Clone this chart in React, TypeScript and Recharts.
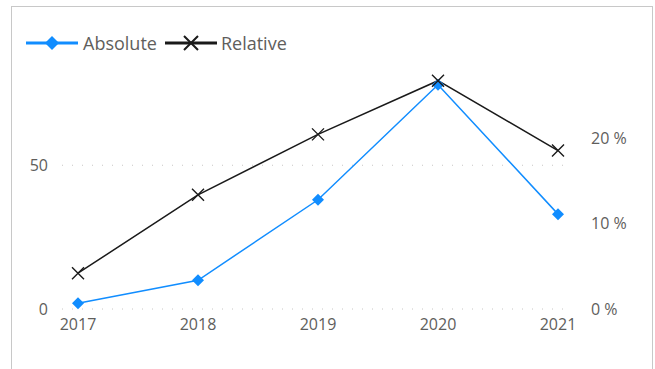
import React from 'react';
import { LineChart, Line, XAxis, YAxis, CartesianGrid, Legend } from 'recharts';

const years = ['2017', '2018', '2019', '2020', '2021'];
const absoluteValues = [2, 10, 38, 78, 33];
const relativeValues = [4.2, 13.4, 20.5, 26.8, 18.6];
const leftTicks = [0, 50];
const rightTicks = [0, 10, 20];

const BLUE = '#118DFF';
const BLACK = '#1a1a1a';
const TEXT = '#605E5C';
const FONT = '"Segoe UI", "Open Sans", sans-serif';

const data = years.map((year, i) => ({
    year,
    absolute: absoluteValues[i],
    relative: relativeValues[i],
}));

const Diamond = (props: any) => {
    const { cx, cy, index } = props;
    if (cx == null || cy == null) return null;
    const r = 6;
    return (
        <path
            key={`d-${index}`}
            d={`M${cx},${cy - r}L${cx + r},${cy}L${cx},${cy + r}L${cx - r},${cy}Z`}
            fill={BLUE}
        />
    );
};

const Cross = (props: any) => {
    const { cx, cy, index } = props;
    if (cx == null || cy == null) return null;
    const r = 6;
    return (
        <path
            key={`x-${index}`}
            d={`M${cx - r},${cy - r}L${cx + r},${cy + r}M${cx - r},${cy + r}L${cx + r},${cy - r}`}
            stroke={BLACK}
            strokeWidth={1.4}
            fill="none"
        />
    );
};

// legend drawn like the Power BI one: thick line with marker in the middle
const LegendContent = () => (
    <div style={{ display: 'flex', alignItems: 'center', fontFamily: FONT, fontSize: 18, color: TEXT }}>
        <svg width={52} height={20} style={{ marginRight: 5 }}>
            <line x1={0} y1={10} x2={52} y2={10} stroke={BLUE} strokeWidth={3} />
            <path d="M26,3L33,10L26,17L19,10Z" fill={BLUE} />
        </svg>
        <span style={{ marginRight: 8 }}>Absolute</span>
        <svg width={52} height={20} style={{ marginRight: 4 }}>
            <line x1={0} y1={10} x2={52} y2={10} stroke={BLACK} strokeWidth={3} />
            <path d="M19,3L33,17M19,17L33,3" stroke={BLACK} strokeWidth={2} fill="none" />
        </svg>
        <span>Relative</span>
    </div>
);

export default function App() {
    return (
        <div
            style={{
                position: 'absolute',
                left: 11,
                top: 6,
                width: 642,
                height: 363,
                boxSizing: 'border-box',
                borderTop: '1px solid #c8c8c8',
                borderLeft: '1px solid #c8c8c8',
                borderRight: '1px solid #c8c8c8',
                background: '#fff',
            }}
        >
            <LineChart
                width={640}
                height={362}
                data={data}
                margin={{ top: 72, right: 24, bottom: 30, left: 0 }}
            >
                <CartesianGrid
                    yAxisId="left"
                    vertical={false}
                    horizontalValues={leftTicks}
                    stroke="#c8c6c4"
                    strokeDasharray="1 9"
                />
                <XAxis
                    dataKey="year"
                    padding={{ left: 16, right: 10 }}
                    axisLine={false}
                    tickLine={false}
                    tickMargin={4}
                    height={30}
                    tick={{ fill: TEXT, fontSize: 16, fontFamily: FONT }}
                />
                <YAxis
                    yAxisId="left"
                    domain={[0, 80]}
                    ticks={leftTicks}
                    width={50}
                    axisLine={false}
                    tickLine={false}
                    tickMargin={8}
                    tick={{ fill: TEXT, fontSize: 16, fontFamily: FONT }}
                />
                <YAxis
                    yAxisId="right"
                    orientation="right"
                    domain={[0, 27]}
                    ticks={rightTicks}
                    tickFormatter={(v: number) => `${v} %`}
                    width={60}
                    axisLine={false}
                    tickLine={false}
                    tickMargin={17}
                    tick={{ fill: TEXT, fontSize: 16, fontFamily: FONT, textAnchor: 'start' }}
                />
                <Legend
                    verticalAlign="middle"
                    align="center"
                    content={<LegendContent />}
                    wrapperStyle={{ top: 24, left: 14, width: 'auto' }}
                />
                <Line
                    yAxisId="left"
                    dataKey="absolute"
                    stroke={BLUE}
                    strokeWidth={1.5}
                    dot={Diamond}
                    activeDot={false}
                    isAnimationActive={false}
                />
                <Line
                    yAxisId="right"
                    dataKey="relative"
                    stroke={BLACK}
                    strokeWidth={1.5}
                    dot={Cross}
                    activeDot={false}
                    isAnimationActive={false}
                />
            </LineChart>
        </div>
    );
}
